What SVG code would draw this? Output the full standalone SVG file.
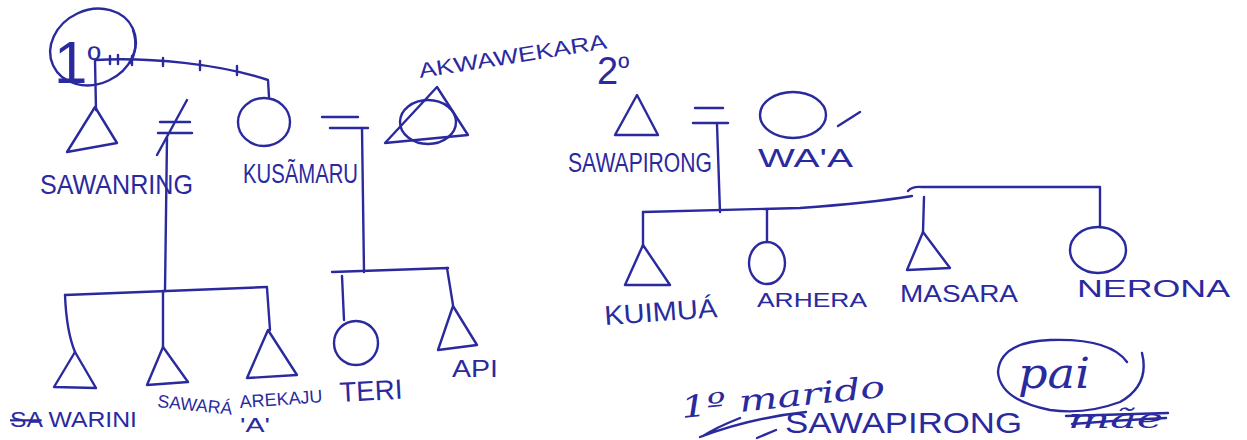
<svg xmlns="http://www.w3.org/2000/svg" width="1247" height="440" viewBox="0 0 1247 440">
<style>
.ln{fill:none;stroke:#2a2a9e;stroke-width:2.4;stroke-linecap:round;stroke-linejoin:round}
.t{fill:#2a2a9e;font-family:"Liberation Sans","DejaVu Sans",sans-serif}
.c{fill:#2a2a9e;font-family:"DejaVu Serif","Liberation Serif",serif;font-style:italic}
</style>
<rect width="1247" height="440" fill="#ffffff"/>
<g id="connectors" class="ln">
  <path d="M95,60 C150,57 220,64 268,80 L269,97"/>
  <path d="M110,56 v8 M118,55 v9 M132,56 v9 M163,58 v8 M200,61 v9 M237,66 v9"/>
  <path d="M95,60 L96,110"/>
  <path d="M160,122 H190 M158,133 H192 M187,100 L157,155"/>
  <path d="M167,137 L165,291"/>
  <path d="M65,295 L267,287"/>
  <path d="M65,295 C66,320 70,340 75,352 M163,291 L163,347 M267,288 L270,330"/>
  <path d="M322,117 H358 M330,128 H368"/>
  <path d="M362,128 L364,272"/>
  <path d="M332,272 L448,268 M342,276 L344,320 M447,268 L453,305"/>
  <path d="M695,108 H723 M693,123 H728"/>
  <path d="M717,124 L720,212"/>
  <path d="M643,212 L800,208 Q870,203 912,196"/>
  <path d="M908,191 Q912,186 922,187 L1100,187 L1100,227"/>
  <path d="M924,197 L923,232"/>
  <path d="M643,212 L643,247 M767,210 L767,242"/>
</g>
<g id="n-1p">
  <ellipse class="ln" cx="93" cy="47" rx="44" ry="37" transform="rotate(-25 93 47)"/>
  <path class="ln" d="M133,30 Q139,48 130,63"/>
  <text class="t" x="54" y="83"><tspan font-size="60">1</tspan><tspan font-size="36" dy="-12">º</tspan></text>
</g>
<g id="n-sawanring">
  <polygon class="ln" points="95,107 67,152 117,143"/>
  <text class="t" x="40" y="194" font-size="28" textLength="153" lengthAdjust="spacingAndGlyphs">SAWANRING</text>
</g>
<g id="n-kusamaru">
  <ellipse class="ln" cx="264" cy="122" rx="26" ry="24"/>
  <text class="t" x="243" y="183" font-size="28" textLength="115" lengthAdjust="spacingAndGlyphs">KUSÃMARU</text>
</g>
<g id="n-akwawekara">
  <polygon class="ln" points="385,143 437,87 468,135"/>
  <ellipse class="ln" cx="428" cy="122" rx="28" ry="22"/>
  <text class="t" x="420" y="78" font-size="21" textLength="190" lengthAdjust="spacingAndGlyphs" transform="rotate(-9 420 78)">AKWAWEKARA</text>
</g>
<g id="n-2p">
  <text class="t" x="597" y="84"><tspan font-size="38">2</tspan><tspan font-size="30" dy="-6">º</tspan></text>
</g>
<g id="n-sawapirong">
  <polygon class="ln" points="637,95 615,135 658,135"/>
  <text class="t" x="568" y="172" font-size="27" textLength="144" lengthAdjust="spacingAndGlyphs">SAWAPIRONG</text>
</g>
<g id="n-waa">
  <ellipse class="ln" cx="793" cy="115" rx="33" ry="23"/>
  <path class="ln" d="M838,126 L860,112"/>
  <text class="t" x="758" y="167" font-size="26" textLength="95" lengthAdjust="spacingAndGlyphs">WA'A</text>
</g>
<g id="n-kuimua">
  <polygon class="ln" points="643,245 625,285 670,285"/>
  <text class="t" x="605" y="325" font-size="27" textLength="113" lengthAdjust="spacingAndGlyphs" transform="rotate(-4 605 325)">KUIMUÁ</text>
</g>
<g id="n-arhera">
  <ellipse class="ln" cx="767" cy="263" rx="18" ry="21"/>
  <text class="t" x="757" y="307" font-size="21" textLength="110" lengthAdjust="spacingAndGlyphs">ARHERA</text>
</g>
<g id="n-masara">
  <polygon class="ln" points="923,232 907,270 950,268"/>
  <text class="t" x="900" y="302" font-size="24" textLength="118" lengthAdjust="spacingAndGlyphs">MASARA</text>
</g>
<g id="n-nerona">
  <ellipse class="ln" cx="1098" cy="250" rx="28" ry="23"/>
  <text class="t" x="1077" y="297" font-size="23" textLength="153" lengthAdjust="spacingAndGlyphs">NERONA</text>
</g>
<g id="n-sawarini">
  <polygon class="ln" points="75,352 54,387 96,388"/>
  <text class="t" x="10" y="427" font-size="22" textLength="127" lengthAdjust="spacingAndGlyphs"><tspan text-decoration="line-through">SA</tspan> WARINI</text>
</g>
<g id="n-sawara">
  <polygon class="ln" points="163,347 147,385 188,382"/>
  <text class="t" x="157" y="407" font-size="18" textLength="75" lengthAdjust="spacingAndGlyphs" transform="rotate(6 157 407)">SAWARÁ</text>
  <text class="t" x="240" y="432" font-size="20" textLength="30" lengthAdjust="spacingAndGlyphs">'A'</text>
</g>
<g id="n-arekaju">
  <polygon class="ln" points="268,330 247,378 297,375"/>
  <text class="t" x="240" y="408" font-size="18" textLength="83" lengthAdjust="spacingAndGlyphs" transform="rotate(-4 240 408)">AREKAJU</text>
</g>
<g id="n-teri">
  <ellipse class="ln" cx="356" cy="343" rx="22" ry="22"/>
  <text class="t" x="340" y="402" font-size="28" textLength="63" lengthAdjust="spacingAndGlyphs" transform="rotate(-3 340 402)">TERI</text>
</g>
<g id="n-api">
  <polygon class="ln" points="453,306 438,350 477,345"/>
  <text class="t" x="452" y="377" font-size="24" textLength="46" lengthAdjust="spacingAndGlyphs">API</text>
</g>
<g id="note">
  <text class="c" x="682" y="418" font-size="30" textLength="205" lengthAdjust="spacingAndGlyphs" transform="rotate(-6 682 418)">1º marido</text>
  <path class="ln" d="M700,437 Q750,418 806,412 M740,418 Q715,428 703,436 M757,438 L776,430"/>
  <text class="t" x="785" y="433" font-size="30" textLength="237" lengthAdjust="spacingAndGlyphs">SAWAPIRONG</text>
  <path class="ln" d="M1142,353 Q1150,385 1120,402 Q1085,415 1050,410 Q1000,400 998,372 Q1000,342 1050,340 Q1110,338 1127,362"/>
  <text class="c" x="1018" y="388" font-size="42" textLength="72" lengthAdjust="spacingAndGlyphs">pai</text>
  <text class="c" x="1068" y="428" font-size="26" textLength="95" lengthAdjust="spacingAndGlyphs">mãe</text>
  <path class="ln" d="M1066,416 L1168,413 M1072,424 Q1120,420 1166,418"/>
</g>
</svg>
